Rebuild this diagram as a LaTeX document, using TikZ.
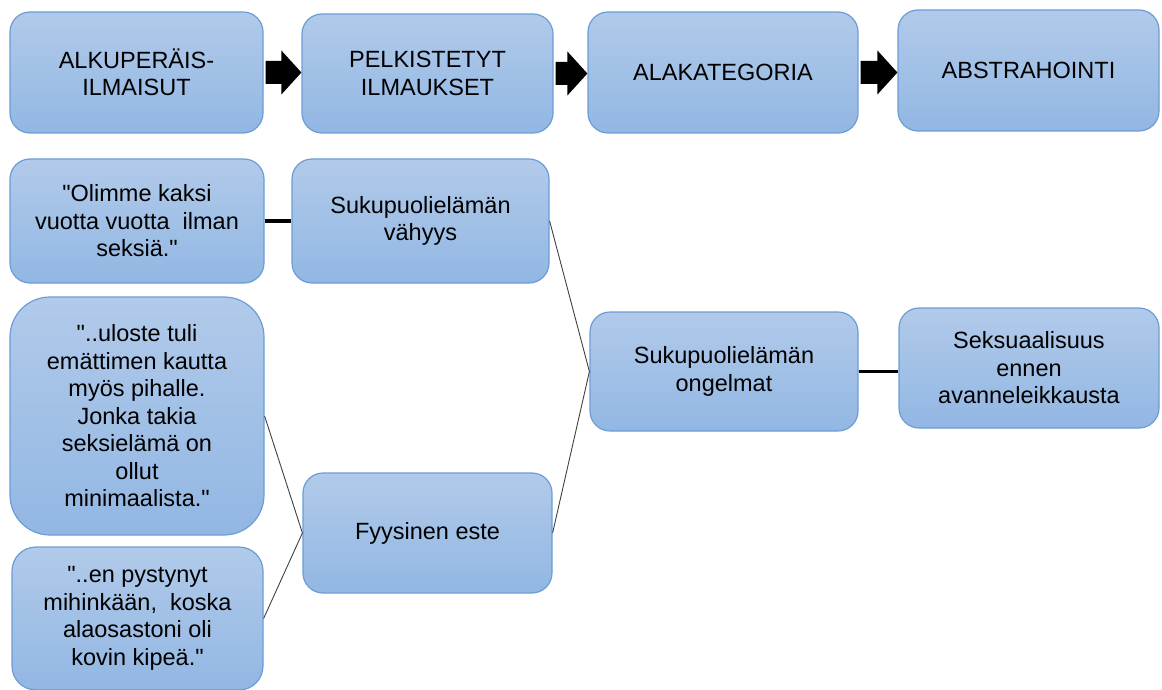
\documentclass[tikz,border=0pt]{standalone}
\usepackage{fontspec}
\setmainfont{Liberation Sans}[Ligatures=TeXOff]
\usetikzlibrary{calc}
\definecolor{boxtop}{RGB}{177,202,234}
\definecolor{boxbot}{RGB}{146,183,227}
\definecolor{boxline}{RGB}{108,156,214}
\begin{document}
\begin{tikzpicture}[x=1pt,y=-1pt,
  box/.style={draw=boxline,line width=1.2pt,top color=boxtop,bottom color=boxbot,rounded corners=20pt,
    align=center,inner sep=0pt,font=\fontsize{23.5}{27.5}\selectfont},
  link/.style={draw=black!75,line width=0.9pt},
  joint/.style={draw=black,line width=3.5pt}]
\useasboundingbox (0,0) rectangle (1162,690);

\node[box,minimum width=253,minimum height=121] (alku) at (136.5,72.5) {ALKUPERÄIS-\\ILMAISUT};
\node[box,minimum width=251,minimum height=119] (pelk) at (427.5,73.5) {PELKISTETYT\\ILMAUKSET};
\node[box,minimum width=270,minimum height=121] (alak) at (723,72.5) {ALAKATEGORIA};
\node[box,minimum width=261,minimum height=121] (abst) at (1028.5,70.5) {ABSTRAHOINTI};

\node[box,minimum width=254,minimum height=124] (olimme) at (137,221) {"Olimme kaksi\\vuotta vuotta\ \ ilman\\seksiä."};
\node[box,minimum width=257,minimum height=124] (vahyys) at (420.5,221) {Sukupuolielämän\\vähyys};
\node[box,rounded corners=40pt,minimum width=254,minimum height=238] (uloste) at (137,416) {"..uloste tuli\\emättimen kautta\\myös pihalle.\\Jonka takia\\seksielämä on\\ollut\\minimaalista."};
\node[box,rounded corners=24pt,minimum width=251,minimum height=143] (pyst) at (137.5,618.5) {"..en pystynyt\\mihinkään,\ \ koska\\alaosastoni oli\\kovin kipeä."};
\node[box,minimum width=249,minimum height=120] (fyys) at (427.5,533) {Fyysinen este};
\node[box,minimum width=268,minimum height=119] (ongel) at (724,371.5) {Sukupuolielämän\\ongelmat};
\node[box,minimum width=260,minimum height=120] (seks) at (1029,368) {Seksuaalisuus\\ennen\\avanneleikkausta};

\foreach \a/\b in {alku/pelk,pelk/alak,alak/abst}
  \fill let \p1=(\a.east), \p2=(\b.west) in
    (\x1+2pt,\y1+11.5pt) -- (\x2-20pt,\y1+11.5pt) -- (\x2-20pt,\y1+22pt) -- (\x2,\y1)
    -- (\x2-20pt,\y1-22pt) -- (\x2-20pt,\y1-11.5pt) -- (\x1+2pt,\y1-11.5pt) -- cycle;

\draw[joint] (olimme.east) -- (vahyys.west);
\draw[joint] (ongel.east) -- (ongel.east -| seks.west);
\draw[link] (vahyys.east) -- (ongel.west) -- (fyys.east);
\draw[link] (uloste.east) -- (fyys.west) -- (pyst.east);
\end{tikzpicture}
\end{document}
